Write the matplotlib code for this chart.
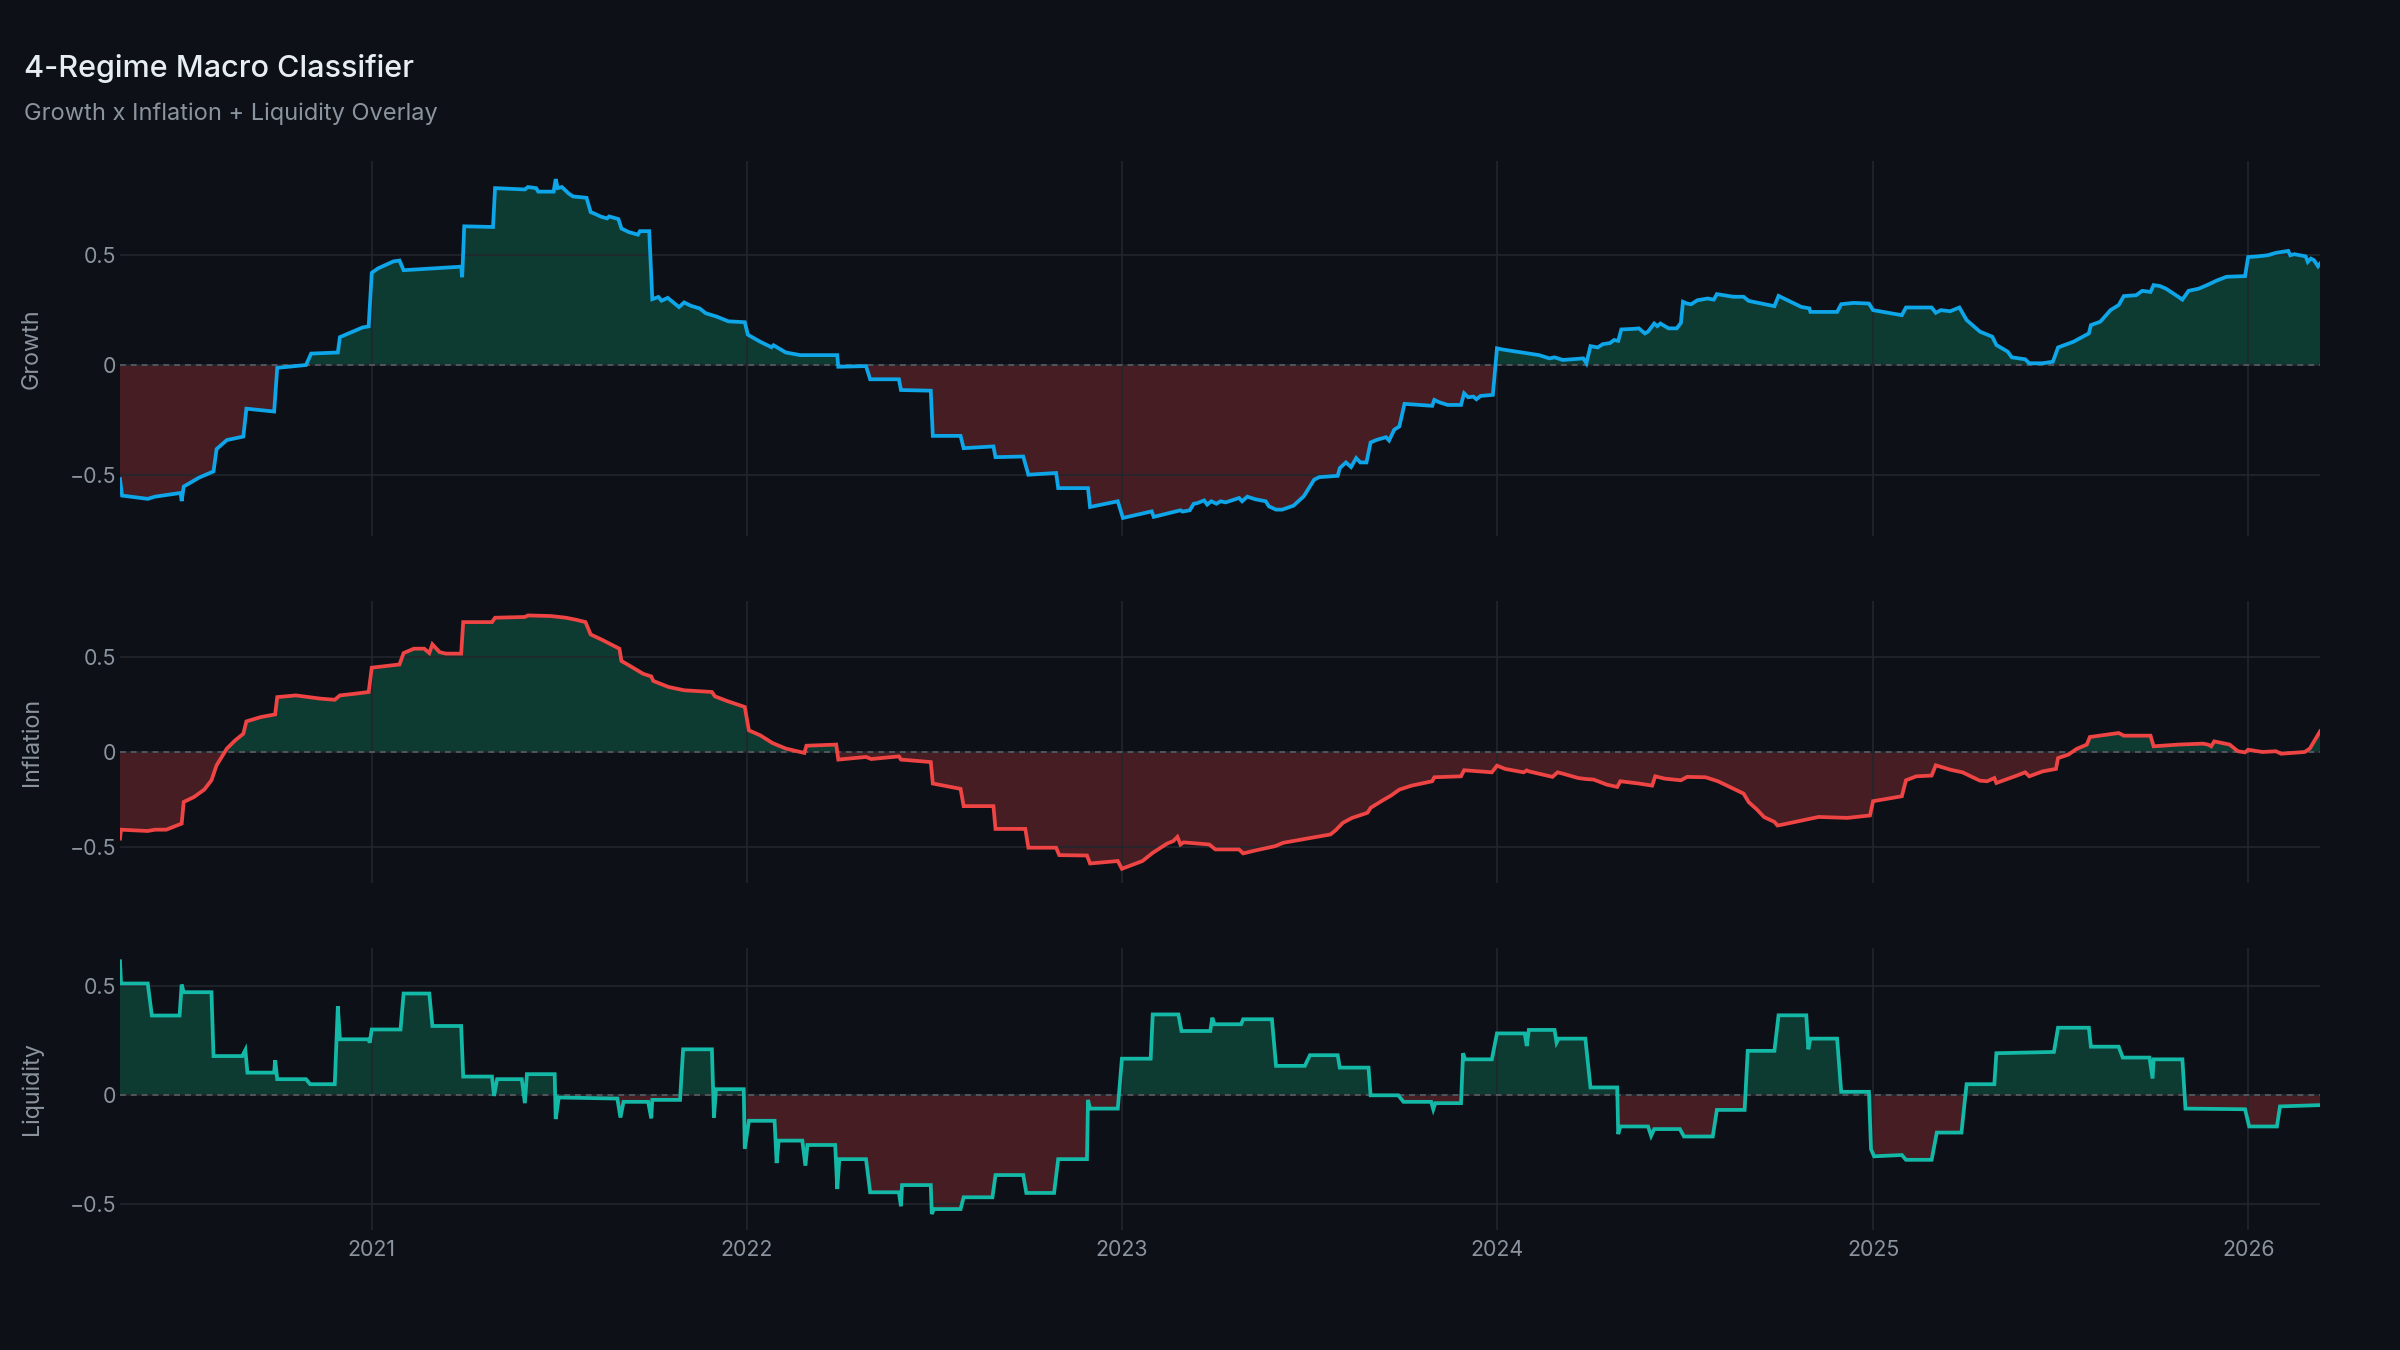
import pandas as pd
import matplotlib.pyplot as plt

BG = "#0d1117"
GRID = "#21262d"
MUTED = "#8b949e"
POS_FILL = "#10b981"
NEG_FILL = "#ef4444"

TITLE = "4-Regime Macro Classifier"
SUBTITLE = "Growth x Inflation + Liquidity Overlay"
YEAR_TICKS = ["2021", "2022", "2023", "2024", "2025", "2026"]
Y_TICKS = [-0.5, 0, 0.5]
Y_TICK_LABELS = ["\u22120.5", "0", "0.5"]

# composite scores (date, score)
growth = [
    ("2020-05-01", -0.52), ("2020-05-03", -0.595), ("2020-05-28", -0.61), ("2020-06-04", -0.60),
    ("2020-06-29", -0.583), ("2020-06-30", -0.62), ("2020-07-02", -0.554), ("2020-07-17", -0.513),
    ("2020-07-31", -0.485), ("2020-08-03", -0.383), ("2020-08-13", -0.342), ("2020-08-29", -0.326),
    ("2020-09-01", -0.199), ("2020-09-28", -0.212), ("2020-10-01", -0.013), ("2020-10-29", 0.0),
    ("2020-11-03", 0.052), ("2020-11-29", 0.057), ("2020-12-01", 0.127), ("2020-12-23", 0.171),
    ("2020-12-29", 0.176), ("2021-01-01", 0.42), ("2021-01-07", 0.44), ("2021-01-22", 0.472),
    ("2021-01-28", 0.476), ("2021-02-01", 0.432), ("2021-03-29", 0.448), ("2021-03-30", 0.40),
    ("2021-04-01", 0.632), ("2021-04-29", 0.629), ("2021-05-01", 0.806), ("2021-05-30", 0.80),
    ("2021-06-02", 0.811), ("2021-06-10", 0.806), ("2021-06-12", 0.79), ("2021-06-27", 0.79),
    ("2021-06-29", 0.847), ("2021-07-01", 0.806), ("2021-07-05", 0.811), ("2021-07-12", 0.78),
    ("2021-07-16", 0.768), ("2021-07-29", 0.762), ("2021-08-02", 0.697), ("2021-08-07", 0.687),
    ("2021-08-12", 0.676), ("2021-08-18", 0.668), ("2021-08-20", 0.677), ("2021-08-29", 0.665),
    ("2021-09-01", 0.622), ("2021-09-08", 0.606), ("2021-09-17", 0.594), ("2021-09-19", 0.61),
    ("2021-09-28", 0.61), ("2021-10-01", 0.30), ("2021-10-07", 0.31), ("2021-10-10", 0.293),
    ("2021-10-16", 0.306), ("2021-10-27", 0.264), ("2021-11-01", 0.285), ("2021-11-08", 0.269),
    ("2021-11-16", 0.258), ("2021-11-22", 0.236), ("2021-12-03", 0.220), ("2021-12-14", 0.199),
    ("2021-12-30", 0.195), ("2022-01-02", 0.138), ("2022-01-14", 0.106), ("2022-01-25", 0.081),
    ("2022-01-27", 0.09), ("2022-02-08", 0.057), ("2022-02-22", 0.045), ("2022-03-30", 0.045),
    ("2022-03-31", -0.008), ("2022-04-27", -0.005), ("2022-05-01", -0.065), ("2022-05-29", -0.065),
    ("2022-05-31", -0.114), ("2022-06-29", -0.117), ("2022-07-01", -0.323), ("2022-07-28", -0.323),
    ("2022-07-31", -0.379), ("2022-08-29", -0.371), ("2022-08-31", -0.42), ("2022-09-27", -0.417),
    ("2022-10-02", -0.50), ("2022-10-29", -0.492), ("2022-10-31", -0.561), ("2022-11-29", -0.561),
    ("2022-12-01", -0.647), ("2022-12-28", -0.621), ("2023-01-02", -0.697), ("2023-01-30", -0.667),
    ("2023-02-01", -0.692), ("2023-02-27", -0.662), ("2023-03-01", -0.668), ("2023-03-08", -0.662),
    ("2023-03-12", -0.632), ("2023-03-15", -0.63), ("2023-03-22", -0.617), ("2023-03-25", -0.636),
    ("2023-03-29", -0.621), ("2023-04-03", -0.632), ("2023-04-07", -0.621), ("2023-04-12", -0.626),
    ("2023-04-25", -0.606), ("2023-04-28", -0.621), ("2023-05-03", -0.60), ("2023-05-11", -0.612),
    ("2023-05-21", -0.621), ("2023-05-24", -0.644), ("2023-05-31", -0.659), ("2023-06-06", -0.659),
    ("2023-06-17", -0.641), ("2023-06-27", -0.598), ("2023-07-07", -0.523), ("2023-07-12", -0.511),
    ("2023-07-30", -0.505), ("2023-08-01", -0.47), ("2023-08-07", -0.444), ("2023-08-12", -0.465),
    ("2023-08-17", -0.424), ("2023-08-21", -0.444), ("2023-08-27", -0.444), ("2023-08-31", -0.353),
    ("2023-09-06", -0.341), ("2023-09-15", -0.329), ("2023-09-18", -0.344), ("2023-09-23", -0.295),
    ("2023-09-28", -0.280), ("2023-10-03", -0.177), ("2023-10-30", -0.186), ("2023-11-01", -0.159),
    ("2023-11-06", -0.17), ("2023-11-14", -0.182), ("2023-11-27", -0.182), ("2023-11-30", -0.129),
    ("2023-12-04", -0.147), ("2023-12-09", -0.144), ("2023-12-12", -0.156), ("2023-12-16", -0.141),
    ("2023-12-28", -0.136), ("2024-01-01", 0.076), ("2024-01-06", 0.071), ("2024-01-27", 0.056),
    ("2024-02-11", 0.045), ("2024-02-21", 0.03), ("2024-02-26", 0.035), ("2024-03-05", 0.023),
    ("2024-03-14", 0.026), ("2024-03-25", 0.03), ("2024-03-28", 0.008), ("2024-04-01", 0.086),
    ("2024-04-08", 0.08), ("2024-04-13", 0.095), ("2024-04-20", 0.10), ("2024-04-24", 0.114),
    ("2024-04-28", 0.11), ("2024-05-01", 0.162), ("2024-05-14", 0.165), ("2024-05-18", 0.167),
    ("2024-05-24", 0.144), ("2024-05-27", 0.152), ("2024-06-02", 0.189), ("2024-06-05", 0.177),
    ("2024-06-08", 0.189), ("2024-06-16", 0.167), ("2024-06-24", 0.167), ("2024-06-28", 0.192),
    ("2024-06-30", 0.288), ("2024-07-04", 0.28), ("2024-07-08", 0.277), ("2024-07-14", 0.295),
    ("2024-07-24", 0.303), ("2024-07-30", 0.298), ("2024-08-02", 0.323), ("2024-08-18", 0.311),
    ("2024-08-28", 0.311), ("2024-09-02", 0.292), ("2024-09-27", 0.268), ("2024-10-01", 0.315),
    ("2024-10-13", 0.288), ("2024-10-23", 0.265), ("2024-10-31", 0.258), ("2024-11-01", 0.242),
    ("2024-11-27", 0.242), ("2024-12-01", 0.277), ("2024-12-13", 0.283), ("2024-12-28", 0.28),
    ("2025-01-01", 0.25), ("2025-01-29", 0.227), ("2025-02-02", 0.262), ("2025-02-27", 0.262),
    ("2025-03-03", 0.238), ("2025-03-08", 0.25), ("2025-03-17", 0.245), ("2025-03-26", 0.262),
    ("2025-04-02", 0.205), ("2025-04-15", 0.152), ("2025-04-27", 0.129), ("2025-05-01", 0.091),
    ("2025-05-12", 0.061), ("2025-05-16", 0.035), ("2025-05-29", 0.026), ("2025-06-02", 0.008),
    ("2025-06-15", 0.008), ("2025-06-25", 0.015), ("2025-06-30", 0.08), ("2025-07-15", 0.106),
    ("2025-07-30", 0.144), ("2025-08-01", 0.182), ("2025-08-10", 0.197), ("2025-08-15", 0.223),
    ("2025-08-20", 0.25), ("2025-08-28", 0.273), ("2025-09-02", 0.314), ("2025-09-14", 0.318),
    ("2025-09-20", 0.338), ("2025-09-28", 0.333), ("2025-10-01", 0.364), ("2025-10-07", 0.36),
    ("2025-10-13", 0.348), ("2025-10-25", 0.311), ("2025-10-29", 0.298), ("2025-11-04", 0.338),
    ("2025-11-14", 0.348), ("2025-11-22", 0.364), ("2025-12-02", 0.386), ("2025-12-11", 0.402),
    ("2025-12-29", 0.405), ("2026-01-01", 0.492), ("2026-01-08", 0.494), ("2026-01-20", 0.50),
    ("2026-01-28", 0.511), ("2026-02-09", 0.52), ("2026-02-11", 0.50), ("2026-02-15", 0.505),
    ("2026-02-26", 0.495), ("2026-02-28", 0.47), ("2026-03-03", 0.485), ("2026-03-06", 0.478),
    ("2026-03-10", 0.45), ("2026-03-12", 0.462),
]

inflation = [
    ("2020-05-01", -0.456), ("2020-05-02", -0.409), ("2020-05-28", -0.416), ("2020-06-04", -0.409),
    ("2020-06-15", -0.409), ("2020-06-30", -0.377), ("2020-07-02", -0.263), ("2020-07-12", -0.237),
    ("2020-07-22", -0.198), ("2020-07-29", -0.149), ("2020-08-03", -0.07), ("2020-08-08", -0.026),
    ("2020-08-13", 0.018), ("2020-08-21", 0.061), ("2020-08-29", 0.096), ("2020-09-01", 0.161),
    ("2020-09-15", 0.184), ("2020-09-29", 0.198), ("2020-10-01", 0.289), ("2020-10-19", 0.298),
    ("2020-10-26", 0.293), ("2020-11-12", 0.281), ("2020-11-26", 0.275), ("2020-12-01", 0.298),
    ("2020-12-16", 0.307), ("2020-12-29", 0.316), ("2021-01-01", 0.444), ("2021-01-28", 0.461),
    ("2021-02-01", 0.521), ("2021-02-11", 0.544), ("2021-02-21", 0.544), ("2021-02-26", 0.521),
    ("2021-03-01", 0.567), ("2021-03-08", 0.526), ("2021-03-14", 0.518), ("2021-03-29", 0.518),
    ("2021-03-31", 0.684), ("2021-04-28", 0.684), ("2021-05-01", 0.707), ("2021-05-30", 0.711),
    ("2021-06-02", 0.719), ("2021-06-24", 0.716), ("2021-07-09", 0.707), ("2021-07-19", 0.696),
    ("2021-07-28", 0.684), ("2021-08-02", 0.619), ("2021-08-13", 0.591), ("2021-08-30", 0.544),
    ("2021-09-01", 0.479), ("2021-09-10", 0.451), ("2021-09-22", 0.412), ("2021-09-30", 0.398),
    ("2021-10-02", 0.374), ("2021-10-17", 0.342), ("2021-11-01", 0.325), ("2021-11-28", 0.316),
    ("2021-12-01", 0.293), ("2021-12-13", 0.268), ("2021-12-30", 0.237), ("2022-01-03", 0.114),
    ("2022-01-14", 0.088), ("2022-01-26", 0.047), ("2022-02-08", 0.018), ("2022-02-26", -0.005),
    ("2022-02-28", 0.033), ("2022-03-29", 0.039), ("2022-03-31", -0.04), ("2022-04-27", -0.026),
    ("2022-05-02", -0.037), ("2022-05-29", -0.023), ("2022-05-31", -0.04), ("2022-06-29", -0.053),
    ("2022-07-01", -0.166), ("2022-07-28", -0.194), ("2022-07-31", -0.285), ("2022-08-29", -0.285),
    ("2022-08-31", -0.405), ("2022-09-29", -0.405), ("2022-10-02", -0.504), ("2022-10-29", -0.504),
    ("2022-11-01", -0.543), ("2022-11-28", -0.545), ("2022-12-01", -0.587), ("2022-12-28", -0.574),
    ("2023-01-01", -0.615), ("2023-01-21", -0.574), ("2023-01-31", -0.531), ("2023-02-14", -0.482),
    ("2023-02-20", -0.469), ("2023-02-24", -0.447), ("2023-02-27", -0.487), ("2023-03-02", -0.476),
    ("2023-03-27", -0.487), ("2023-04-02", -0.513), ("2023-04-25", -0.513), ("2023-04-29", -0.534),
    ("2023-05-12", -0.517), ("2023-05-30", -0.496), ("2023-06-07", -0.478), ("2023-07-23", -0.434),
    ("2023-07-28", -0.412), ("2023-08-04", -0.373), ("2023-08-13", -0.347), ("2023-08-28", -0.32),
    ("2023-08-31", -0.294), ("2023-09-12", -0.254), ("2023-09-20", -0.229), ("2023-09-28", -0.198),
    ("2023-10-10", -0.177), ("2023-10-30", -0.154), ("2023-11-01", -0.133), ("2023-11-27", -0.128),
    ("2023-11-30", -0.096), ("2023-12-27", -0.107), ("2024-01-01", -0.072), ("2024-01-09", -0.089),
    ("2024-01-27", -0.107), ("2024-01-30", -0.097), ("2024-02-01", -0.102), ("2024-02-24", -0.131),
    ("2024-02-29", -0.107), ("2024-03-05", -0.114), ("2024-03-20", -0.137), ("2024-03-27", -0.142),
    ("2024-04-04", -0.145), ("2024-04-17", -0.172), ("2024-04-27", -0.184), ("2024-04-30", -0.154),
    ("2024-05-18", -0.166), ("2024-05-31", -0.177), ("2024-06-03", -0.128), ("2024-06-12", -0.14),
    ("2024-06-28", -0.149), ("2024-07-04", -0.131), ("2024-07-22", -0.133), ("2024-08-03", -0.154),
    ("2024-08-18", -0.193), ("2024-08-28", -0.219), ("2024-09-02", -0.264), ("2024-09-10", -0.303),
    ("2024-09-17", -0.343), ("2024-09-27", -0.368), ("2024-09-30", -0.387), ("2024-10-05", -0.382),
    ("2024-11-09", -0.342), ("2024-12-07", -0.347), ("2024-12-29", -0.334), ("2025-01-01", -0.259),
    ("2025-01-29", -0.233), ("2025-02-02", -0.149), ("2025-02-12", -0.128), ("2025-02-27", -0.124),
    ("2025-03-03", -0.07), ("2025-03-17", -0.093), ("2025-03-29", -0.107), ("2025-04-15", -0.151),
    ("2025-04-22", -0.154), ("2025-04-29", -0.137), ("2025-05-01", -0.163), ("2025-05-21", -0.124),
    ("2025-05-29", -0.107), ("2025-06-02", -0.128), ("2025-06-15", -0.102), ("2025-06-28", -0.089),
    ("2025-06-30", -0.032), ("2025-07-10", -0.014), ("2025-07-18", 0.016), ("2025-07-28", 0.039),
    ("2025-07-31", 0.079), ("2025-08-28", 0.10), ("2025-09-02", 0.086), ("2025-09-28", 0.086),
    ("2025-10-01", 0.03), ("2025-10-25", 0.039), ("2025-11-18", 0.044), ("2025-11-23", 0.039),
    ("2025-11-26", 0.03), ("2025-11-29", 0.056), ("2025-12-14", 0.039), ("2025-12-22", 0.004),
    ("2025-12-29", -0.002), ("2026-01-01", 0.012), ("2026-01-15", 0.0), ("2026-01-28", 0.004),
    ("2026-02-02", -0.009), ("2026-02-25", 0.0), ("2026-03-02", 0.018), ("2026-03-12", 0.109),
]

liquidity = [
    ("2020-05-01", 0.613), ("2020-05-02", 0.511), ("2020-05-28", 0.511), ("2020-06-01", 0.364),
    ("2020-06-28", 0.364), ("2020-06-30", 0.506), ("2020-07-02", 0.471), ("2020-07-29", 0.471),
    ("2020-07-31", 0.178), ("2020-08-28", 0.178), ("2020-08-31", 0.206), ("2020-09-02", 0.102),
    ("2020-09-28", 0.102), ("2020-09-29", 0.159), ("2020-10-01", 0.072), ("2020-10-29", 0.072),
    ("2020-11-02", 0.049), ("2020-11-26", 0.049), ("2020-11-29", 0.407), ("2020-12-01", 0.255),
    ("2020-12-29", 0.255), ("2020-12-30", 0.239), ("2021-01-01", 0.30), ("2021-01-29", 0.30),
    ("2021-02-01", 0.465), ("2021-02-26", 0.465), ("2021-03-01", 0.316), ("2021-03-29", 0.316),
    ("2021-03-31", 0.084), ("2021-04-28", 0.084), ("2021-04-30", -0.005), ("2021-05-03", 0.072),
    ("2021-05-27", 0.072), ("2021-05-30", -0.038), ("2021-06-01", 0.095), ("2021-06-28", 0.095),
    ("2021-06-29", -0.111), ("2021-07-02", -0.012), ("2021-08-28", -0.017), ("2021-08-31", -0.104),
    ("2021-09-03", -0.032), ("2021-09-27", -0.032), ("2021-09-30", -0.108), ("2021-10-01", -0.023),
    ("2021-10-28", -0.023), ("2021-10-31", 0.209), ("2021-11-28", 0.209), ("2021-11-30", -0.104),
    ("2021-12-02", 0.026), ("2021-12-29", 0.026), ("2021-12-30", -0.248), ("2022-01-03", -0.119),
    ("2022-01-28", -0.119), ("2022-01-30", -0.313), ("2022-02-01", -0.21), ("2022-02-24", -0.21),
    ("2022-02-27", -0.325), ("2022-03-01", -0.23), ("2022-03-28", -0.23), ("2022-03-30", -0.432),
    ("2022-04-01", -0.295), ("2022-04-27", -0.295), ("2022-05-01", -0.447), ("2022-05-29", -0.447),
    ("2022-05-31", -0.511), ("2022-06-01", -0.414), ("2022-06-29", -0.414), ("2022-06-30", -0.547),
    ("2022-07-02", -0.524), ("2022-07-28", -0.524), ("2022-07-31", -0.47), ("2022-08-28", -0.47),
    ("2022-08-31", -0.368), ("2022-09-27", -0.368), ("2022-09-30", -0.45), ("2022-10-27", -0.45),
    ("2022-10-31", -0.295), ("2022-11-28", -0.295), ("2022-11-29", -0.023), ("2022-12-01", -0.063),
    ("2022-12-28", -0.063), ("2023-01-01", 0.166), ("2023-01-29", 0.166), ("2023-01-31", 0.369),
    ("2023-02-25", 0.369), ("2023-02-28", 0.293), ("2023-03-28", 0.293), ("2023-03-30", 0.354),
    ("2023-04-01", 0.324), ("2023-04-27", 0.324), ("2023-04-29", 0.347), ("2023-05-27", 0.347),
    ("2023-05-31", 0.133), ("2023-06-28", 0.133), ("2023-07-03", 0.182), ("2023-07-30", 0.182),
    ("2023-08-01", 0.125), ("2023-08-29", 0.125), ("2023-08-31", -0.002), ("2023-09-27", -0.002),
    ("2023-10-02", -0.032), ("2023-10-29", -0.032), ("2023-10-31", -0.066), ("2023-11-02", -0.038),
    ("2023-11-27", -0.038), ("2023-11-29", 0.191), ("2023-12-01", 0.163), ("2023-12-27", 0.163),
    ("2024-01-01", 0.282), ("2024-01-28", 0.282), ("2024-01-30", 0.224), ("2024-02-01", 0.298),
    ("2024-02-26", 0.298), ("2024-02-28", 0.24), ("2024-03-01", 0.258), ("2024-03-27", 0.258),
    ("2024-04-01", 0.034), ("2024-04-27", 0.034), ("2024-04-28", -0.18), ("2024-04-30", -0.145),
    ("2024-05-27", -0.145), ("2024-05-30", -0.188), ("2024-06-02", -0.157), ("2024-06-27", -0.157),
    ("2024-07-01", -0.191), ("2024-07-29", -0.191), ("2024-08-02", -0.069), ("2024-08-29", -0.069),
    ("2024-09-01", 0.202), ("2024-09-27", 0.202), ("2024-10-01", 0.365), ("2024-10-28", 0.365),
    ("2024-10-30", 0.209), ("2024-11-01", 0.258), ("2024-11-27", 0.258), ("2024-12-01", 0.014),
    ("2024-12-28", 0.014), ("2024-12-30", -0.249), ("2025-01-02", -0.282), ("2025-01-29", -0.276),
    ("2025-02-02", -0.298), ("2025-02-27", -0.298), ("2025-03-04", -0.173), ("2025-03-28", -0.173),
    ("2025-04-02", 0.049), ("2025-04-29", 0.049), ("2025-05-01", 0.191), ("2025-06-26", 0.197),
    ("2025-06-30", 0.308), ("2025-07-30", 0.308), ("2025-08-01", 0.221), ("2025-08-28", 0.221),
    ("2025-09-01", 0.171), ("2025-09-27", 0.171), ("2025-09-30", 0.075), ("2025-10-01", 0.163),
    ("2025-10-29", 0.163), ("2025-11-01", -0.063), ("2025-12-29", -0.066), ("2026-01-02", -0.145),
    ("2026-01-29", -0.145), ("2026-02-01", -0.053), ("2026-03-12", -0.047),
]

# name, series, line colour, y range, axes rect in figure fractions
panels = [
    ("Growth", growth, "#0ea5e9", (-0.779, 0.93), [0.05, 0.603, 0.9167, 0.2778]),
    ("Inflation", inflation, "#ef4444", (-0.69, 0.795), [0.05, 0.3459, 0.9167, 0.2089]),
    ("Liquidity", liquidity, "#14b8a6", (-0.62, 0.674), [0.05, 0.0889, 0.9167, 0.2089]),
]


def to_frame(series):
    df = pd.DataFrame(series, columns=["date", "value"])
    df["date"] = pd.to_datetime(df["date"])
    return df


def style_axis(ax, ylim, xlim):
    ax.set_facecolor(BG)
    for side in ax.spines.values():
        side.set_visible(False)
    ax.set_xlim(*xlim)
    ax.set_ylim(*ylim)
    ax.set_yticks(Y_TICKS)
    ax.set_yticklabels(Y_TICK_LABELS)
    ax.set_xticks(pd.to_datetime([f"{y}-01-01" for y in YEAR_TICKS]))
    ax.grid(True, color=GRID, linewidth=0.6, zorder=0)
    ax.tick_params(length=0, colors=MUTED, labelsize=7.7, pad=1.5)
    ax.tick_params(axis="x", pad=3.5)


def main():
    plt.rcParams["font.family"] = ["Inter", "DejaVu Sans"]
    fig = plt.figure(figsize=(12, 6.75), dpi=200, facecolor=BG)

    frames = [to_frame(p[1]) for p in panels]
    xlim = (frames[0]["date"].min(), frames[0]["date"].max())

    for i, ((name, _, color, ylim, rect), df) in enumerate(zip(panels, frames)):
        ax = fig.add_axes(rect)
        style_axis(ax, ylim, xlim)
        x, y = df["date"], df["value"]
        ax.fill_between(x, y, 0, where=y >= 0, interpolate=True,
                        color=POS_FILL, alpha=0.25, linewidth=0, zorder=1)
        ax.fill_between(x, y, 0, where=y <= 0, interpolate=True,
                        color=NEG_FILL, alpha=0.25, linewidth=0, zorder=1)
        ax.axhline(0, color="#5a5f66", linewidth=0.6, linestyle=(0, (3.5, 3)), zorder=2)
        ax.plot(x, y, color=color, linewidth=1.35, solid_joinstyle="miter", zorder=3)
        ax.set_ylabel(name, color=MUTED, fontsize=8.4)
        ax.yaxis.set_label_coords(-0.035, 0.5)
        if i < len(panels) - 1:
            ax.tick_params(axis="x", labelbottom=False)
        else:
            ax.set_xticklabels(YEAR_TICKS)

    fig.text(0.01, 0.9496, TITLE, color="#e6edf3", fontsize=11, fontweight="medium",
             va="center", ha="left")
    fig.text(0.01, 0.9156, SUBTITLE, color=MUTED, fontsize=8.5, va="center", ha="left")

    fig.savefig("out.png", dpi=200, facecolor=BG)


if __name__ == "__main__":
    main()
